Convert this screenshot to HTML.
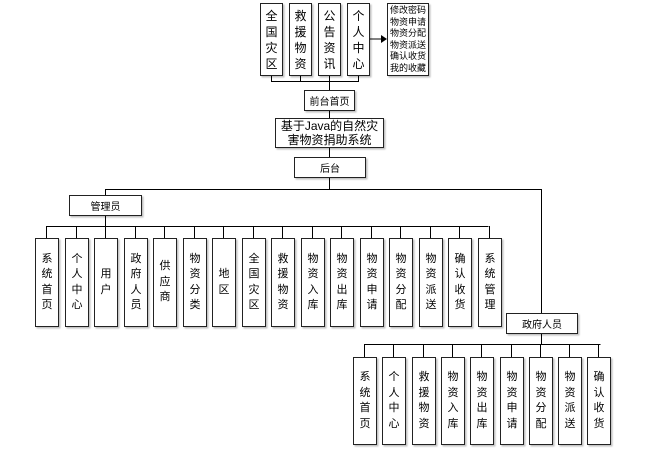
<!DOCTYPE html>
<html><head><meta charset="utf-8"><style>
html,body{margin:0;padding:0;background:#fff;width:650px;height:458px;overflow:hidden;position:relative}
svg{position:absolute;left:0;top:0}
.b{position:absolute;box-sizing:border-box;border:1px solid #222;background:#fff;box-shadow:1.5px 1.5px 1.5px rgba(0,0,0,.25);display:flex;align-items:center;justify-content:center;text-align:center;font-family:"Liberation Sans","Noto Sans CJK SC",sans-serif;font-size:11px;color:#000}
.v{width:24px;line-height:15.5px}
.a{top:238px;height:89px}
.g{top:357px;height:88px}
.t{top:3px;height:73px;width:23px;font-size:12px;line-height:16px}
</style></head><body>
<svg width="650" height="458" viewBox="0 0 650 458" xmlns="http://www.w3.org/2000/svg">
<g stroke="#000" stroke-width="1" fill="none">
<path d="M271.5 75V81.5H358.5V75M300.5 75V81.5M329.5 75V90M329.5 110V118M329.5 147V157M357.5 39H381"/>
<path d="M329.5 177V189.5H105.5V195M329.5 189.5H541.5V313"/>
<path d="M105.5 215V226.5H46.5M105.5 226.5H488.5"/>
<path d="M541.5 333V344.5H364.5M541.5 344.5H600.5"/>
<path d="M46.5 226V238M76.5 226V238M105.5 226V238M135.5 226V238M164.5 226V238M194.5 226V238M223.5 226V238M253.5 226V238M282.5 226V238M312.5 226V238M341.5 226V238M371.5 226V238M400.5 226V238M430.5 226V238M459.5 226V238M489.5 226V238"/>
<path d="M364.5 344V357M393.5 344V357M423.5 344V357M452.5 344V357M481.5 344V357M511.5 344V357M540.5 344V357M569.5 344V357M598.5 344V357"/>
</g>
<path d="M381 35L387 39L381 43Z" fill="#000"/>
</svg>
<div class="b t" style="left:260px">全<br>国<br>灾<br>区</div>
<div class="b t" style="left:289px">救<br>援<br>物<br>资</div>
<div class="b t" style="left:318px">公<br>告<br>资<br>讯</div>
<div class="b t" style="left:347px">个<br>人<br>中<br>心</div>
<div class="b" style="left:387px;top:3px;width:42px;height:73px;font-size:9px;line-height:11.5px">修改密码<br>物资申请<br>物资分配<br>物资派送<br>确认收货<br>我的收藏</div>
<div class="b" style="left:304px;top:90px;width:51px;height:21px;font-size:10px">前台首页</div>
<div class="b" style="left:275px;top:118px;width:109px;height:30px;font-size:12px;line-height:14px">基于Java的自然灾<br>害物资捐助系统</div>
<div class="b" style="left:294px;top:157px;width:72px;height:21px;font-size:10px">后台</div>
<div class="b" style="left:69px;top:195px;width:73px;height:21px;font-size:10px">管理员</div>
<div class="b" style="left:506px;top:313px;width:72px;height:21px;font-size:10px">政府人员</div>

<div class="b v a" style="left:35px">系<br>统<br>首<br>页</div>
<div class="b v a" style="left:65px">个<br>人<br>中<br>心</div>
<div class="b v a" style="left:94px">用<br>户</div>
<div class="b v a" style="left:124px">政<br>府<br>人<br>员</div>
<div class="b v a" style="left:153px">供<br>应<br>商</div>
<div class="b v a" style="left:183px">物<br>资<br>分<br>类</div>
<div class="b v a" style="left:212px">地<br>区</div>
<div class="b v a" style="left:242px">全<br>国<br>灾<br>区</div>
<div class="b v a" style="left:271px">救<br>援<br>物<br>资</div>
<div class="b v a" style="left:301px">物<br>资<br>入<br>库</div>
<div class="b v a" style="left:330px">物<br>资<br>出<br>库</div>
<div class="b v a" style="left:360px">物<br>资<br>申<br>请</div>
<div class="b v a" style="left:389px">物<br>资<br>分<br>配</div>
<div class="b v a" style="left:419px">物<br>资<br>派<br>送</div>
<div class="b v a" style="left:448px">确<br>认<br>收<br>货</div>
<div class="b v a" style="left:478px">系<br>统<br>管<br>理</div>

<div class="b v g" style="left:353px">系<br>统<br>首<br>页</div>
<div class="b v g" style="left:382px">个<br>人<br>中<br>心</div>
<div class="b v g" style="left:412px">救<br>援<br>物<br>资</div>
<div class="b v g" style="left:441px">物<br>资<br>入<br>库</div>
<div class="b v g" style="left:470px">物<br>资<br>出<br>库</div>
<div class="b v g" style="left:500px">物<br>资<br>申<br>请</div>
<div class="b v g" style="left:529px">物<br>资<br>分<br>配</div>
<div class="b v g" style="left:558px">物<br>资<br>派<br>送</div>
<div class="b v g" style="left:587px">确<br>认<br>收<br>货</div>
</body></html>
